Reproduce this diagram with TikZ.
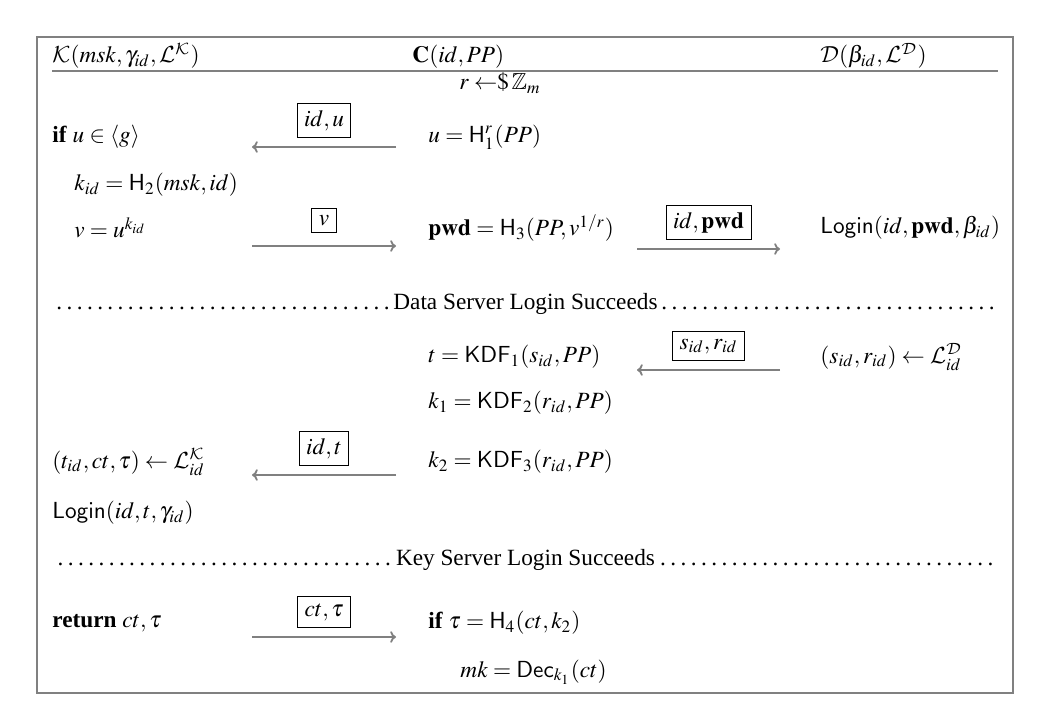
\documentclass[tikz,border=0pt]{standalone}
\usepackage{mathptmx}
\usepackage{amssymb}
\DeclareMathAlphabet{\mathcal}{OMS}{cmsy}{m}{n}
\usepackage{fontspec}
\setmainfont{Liberation Serif}
\setsansfont{TeX Gyre Heros}
\usetikzlibrary{arrows.meta}

\begin{document}
\begin{tikzpicture}[x=0.43pt,y=-0.43pt]
        \tikzstyle{every node}=[inner sep=0pt, anchor=west, font=\fontsize{10}{12}\selectfont]
        \tikzstyle{msgbox}=[draw=black, line width=0.4pt, inner sep=3pt, anchor=base, yshift=9pt]
        \tikzstyle{msg}=[draw=gray, line width=0.8pt, -{To[length=2.5pt,width=5pt]}]
        \tikzstyle{rule}=[draw=gray, line width=0.8pt]
        \useasboundingbox (0,0) rectangle (1041,712);
        \draw[rule] (37,37) rectangle (1013,693);
        % parties
        \node[anchor=base west] (hK) at (52,63) {$\mathcal{K}(msk,\gamma_{id},\mathcal{L}^{\mathcal{K}})$};
        \node[anchor=base west] (hC) at (412,63) {$\mathbf{C}(id,PP)$};
        \node[anchor=base west] (hD) at (820,63) {$\mathcal{D}(\beta_{id},\mathcal{L}^{\mathcal{D}})$};
        \draw[rule] (52,71) -- (998,71);
        \node[anchor=center] (rs) at (500,83) {$r \leftarrow\!\!\$\,\mathbb{Z}_m$};
        % data server login
        \node (k1) at (52,137) {\textbf{if} $u \in \langle g\rangle$};
        \node (c1) at (428,137) {$u = \mathsf{H}_1^r(PP)$};
        \coordinate (k1a) at (252,147); \coordinate (c1a) at (396,147);
        \draw[msg] (c1a) -- node[msgbox] (m1) {$id,u$} (k1a);
        \node (k2) at (74,185) {$k_{id} = \mathsf{H}_2(msk,id)$};
        \node (k3) at (74,228) {$v = u^{k_{id}}$};
        \node (c3) at (428,228) {$\mathbf{pwd} = \mathsf{H}_3(PP,v^{1/r})$};
        \node (d3) at (820,228) {$\mathsf{Login}(id,\mathbf{pwd},\beta_{id})$};
        \coordinate (k3a) at (252,246); \coordinate (c3a) at (396,246);
        \coordinate (c3b) at (637,249); \coordinate (d3b) at (780,249);
        \draw[msg] (k3a) -- node[msgbox] (m2) {$v$} (c3a);
        \draw[msg] (c3b) -- node[msgbox] (m3) {$id,\mathbf{pwd}$} (d3b);
        \node (s1) at (52,304) {\hbox to 406.8pt{\dotfill Data Server Login Succeeds\dotfill}};
        % key server login
        \node (c4) at (428,357) {$t = \mathsf{KDF}_1(s_{id},PP)$};
        \node (d4) at (820,357) {$(s_{id},r_{id}) \leftarrow \mathcal{L}_{id}^{\mathcal{D}}$};
        \coordinate (c4a) at (637,370); \coordinate (d4a) at (780,370);
        \draw[msg] (d4a) -- node[msgbox] (m4) {$s_{id},r_{id}$} (c4a);
        \node (c5) at (428,403) {$k_1 = \mathsf{KDF}_2(r_{id},PP)$};
        \node (k6) at (52,462) {$(t_{id},ct,\tau) \leftarrow \mathcal{L}_{id}^{\mathcal{K}}$};
        \node (c6) at (428,462) {$k_2 = \mathsf{KDF}_3(r_{id},PP)$};
        \coordinate (k6a) at (252,475); \coordinate (c6a) at (396,475);
        \draw[msg] (c6a) -- node[msgbox] (m5) {$id,t$} (k6a);
        \node (k7) at (52,513) {$\mathsf{Login}(id,t,\gamma_{id})$};
        \node (s2) at (52,560) {\hbox to 406.8pt{\dotfill Key Server Login Succeeds\dotfill}};
        % recovery
        \node (k8) at (52,623) {\textbf{return} $ct,\tau$};
        \node (c8) at (428,623) {\textbf{if} $\tau = \mathsf{H}_4(ct,k_2)$};
        \coordinate (k8a) at (252,637); \coordinate (c8a) at (396,637);
        \draw[msg] (k8a) -- node[msgbox] (m6) {$ct,\tau$} (c8a);
        \node (c9) at (460,672) {$mk = \mathsf{Dec}_{k_1}(ct)$};
\end{tikzpicture}
\end{document}
